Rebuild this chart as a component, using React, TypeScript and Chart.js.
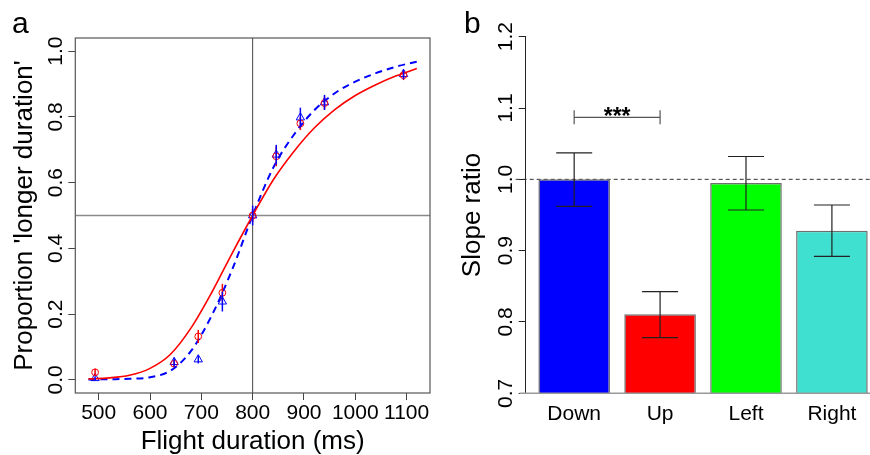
import React, { useEffect, useRef } from 'react';
import { Chart, registerables } from 'chart.js';

Chart.register(...registerables);

const FONT = '"Liberation Sans", Arial, Helvetica, sans-serif';

// ---------- Panel a: psychometric data ----------
const durations = [493, 647, 694, 741, 800, 846, 893, 940, 1094];
const propRed = [0.023, 0.049, 0.132, 0.265, 0.5, 0.68, 0.78, 0.842, 0.927];
const errRed = [0.011, 0.01, 0.02, 0.027, 0.02, 0.03, 0.02, 0.02, 0.015];
const propBlue = [0.005, 0.054, 0.062, 0.238, 0.5, 0.685, 0.798, 0.844, 0.93];
const errBlue = [0.006, 0.013, 0.012, 0.03, 0.03, 0.03, 0.03, 0.023, 0.015];

const fitX = [480, 520, 560, 600, 640, 680, 720, 760, 800, 840, 880, 920, 960, 1000, 1040, 1080, 1120];
const fitRed = [0.003, 0.006, 0.014, 0.035, 0.078, 0.158, 0.265, 0.385, 0.5, 0.608, 0.694, 0.766, 0.822, 0.865, 0.898, 0.925, 0.947];
const fitBlue = [0.001, 0.002, 0.003, 0.008, 0.028, 0.088, 0.195, 0.335, 0.5, 0.645, 0.745, 0.82, 0.872, 0.907, 0.933, 0.953, 0.968];

const xTicksA = [500, 600, 700, 800, 900, 1000, 1100];
const yTicksA = [0, 0.2, 0.4, 0.6, 0.8, 1.0];
const pseMs = 800;
const chanceP = 0.5;

// ---------- Panel b: slope ratios ----------
const directions = ['Down', 'Up', 'Left', 'Right'];
const slopeRatio = [1.0, 0.811, 0.995, 0.928];
const slopeHi = [1.037, 0.8425, 1.032, 0.964];
const slopeLo = [0.962, 0.778, 0.957, 0.892];
const barColors = ['#0000ff', '#ff0000', '#00ff00', '#40e0d0'];
const barSlots = [0.7, 1.9, 3.1, 4.3];
const yTicksB = [0.7, 0.8, 0.9, 1.0, 1.1, 1.2];
const refRatio = 1.0;
const sigY = 1.087;
const sigPair = [0, 1];
const sigLabel = '***';

const panelA = {
  id: 'panelA',
  beforeDatasetsDraw(chart: any) {
    const { ctx, chartArea: ca, scales } = chart;
    const x = scales.x, y = scales.y;
    ctx.save();
    ctx.strokeStyle = '#8a8a8a';
    ctx.lineWidth = 1.4;
    const py = y.getPixelForValue(chanceP);
    ctx.beginPath(); ctx.moveTo(ca.left, py); ctx.lineTo(ca.right, py); ctx.stroke();
    ctx.strokeStyle = '#444';
    ctx.lineWidth = 1;
    const px = x.getPixelForValue(pseMs);
    ctx.beginPath(); ctx.moveTo(px, ca.top); ctx.lineTo(px, ca.bottom); ctx.stroke();
    ctx.restore();
  },
  afterDatasetsDraw(chart: any) {
    const { ctx, scales } = chart;
    const x = scales.x, y = scales.y;
    ctx.save();
    ctx.lineWidth = 1.5;
    const bars = (vals: number[], errs: number[], col: string) => {
      ctx.strokeStyle = col;
      vals.forEach((v, i) => {
        const px = x.getPixelForValue(durations[i]);
        ctx.beginPath();
        ctx.moveTo(px, y.getPixelForValue(v - errs[i]));
        ctx.lineTo(px, y.getPixelForValue(v + errs[i]));
        ctx.stroke();
      });
    };
    bars(propRed, errRed, '#ff0000');
    bars(propBlue, errBlue, '#0000ff');
    ctx.restore();
  },
  afterDraw(chart: any) {
    const { ctx, chartArea: ca } = chart;
    ctx.save();
    ctx.strokeStyle = '#555';
    ctx.lineWidth = 1.2;
    ctx.strokeRect(ca.left, ca.top, ca.right - ca.left, ca.bottom - ca.top);
    ctx.fillStyle = '#000';
    ctx.font = `30px ${FONT}`;
    ctx.textAlign = 'left';
    ctx.textBaseline = 'alphabetic';
    ctx.fillText('a', 12, 33);
    ctx.restore();
  },
};

const panelB = {
  id: 'panelB',
  beforeDatasetsDraw(chart: any) {
    const { ctx, chartArea: ca, scales } = chart;
    const y = scales.y;
    ctx.save();
    ctx.strokeStyle = '#333';
    ctx.lineWidth = 1;
    ctx.setLineDash([4, 3]);
    const py = y.getPixelForValue(refRatio);
    ctx.beginPath(); ctx.moveTo(ca.left - 10, py); ctx.lineTo(ca.right, py); ctx.stroke();
    ctx.restore();
  },
  afterDatasetsDraw(chart: any) {
    const { ctx, chartArea: ca, scales } = chart;
    const y = scales.y;
    const meta = chart.getDatasetMeta(0);
    ctx.save();
    ctx.strokeStyle = '#999';
    ctx.lineWidth = 1.5;
    ctx.beginPath(); ctx.moveTo(ca.left - 6, ca.bottom); ctx.lineTo(ca.right, ca.bottom); ctx.stroke();
    ctx.strokeStyle = '#222';
    ctx.lineWidth = 1.2;
    meta.data.forEach((el: any, i: number) => {
      const px = el.x;
      const hi = y.getPixelForValue(slopeHi[i]);
      const lo = y.getPixelForValue(slopeLo[i]);
      ctx.beginPath();
      ctx.moveTo(px, hi); ctx.lineTo(px, lo);
      ctx.moveTo(px - 18, hi); ctx.lineTo(px + 18, hi);
      ctx.moveTo(px - 18, lo); ctx.lineTo(px + 18, lo);
      ctx.stroke();
    });
    const x0 = meta.data[sigPair[0]].x;
    const x1 = meta.data[sigPair[1]].x;
    const sy = y.getPixelForValue(sigY);
    ctx.strokeStyle = '#555';
    ctx.lineWidth = 1.2;
    ctx.beginPath();
    ctx.moveTo(x0, sy - 7); ctx.lineTo(x0, sy + 7);
    ctx.moveTo(x0, sy); ctx.lineTo(x1, sy);
    ctx.moveTo(x1, sy - 7); ctx.lineTo(x1, sy + 7);
    ctx.stroke();
    ctx.fillStyle = '#000';
    ctx.font = `bold 23px ${FONT}`;
    ctx.textAlign = 'center';
    ctx.textBaseline = 'alphabetic';
    ctx.fillText(sigLabel, (x0 + x1) / 2, sy + 7);
    ctx.restore();
  },
  afterDraw(chart: any) {
    const { ctx } = chart;
    ctx.save();
    ctx.fillStyle = '#000';
    ctx.font = `30px ${FONT}`;
    ctx.textAlign = 'left';
    ctx.textBaseline = 'alphabetic';
    ctx.fillText('b', 24, 33);
    ctx.restore();
  },
};

export default function App() {
  const refA = useRef<HTMLCanvasElement>(null);
  const refB = useRef<HTMLCanvasElement>(null);

  useEffect(() => {
    Chart.defaults.font.family = FONT;
    Chart.defaults.color = '#000';

    const chartA = new Chart(refA.current as HTMLCanvasElement, {
      type: 'scatter',
      data: {
        datasets: [
          {
            type: 'line',
            label: 'fit red',
            data: fitX.map((v, i) => ({ x: v, y: fitRed[i] })),
            borderColor: '#ff0000',
            borderWidth: 1.6,
            pointRadius: 0,
            cubicInterpolationMode: 'monotone',
            fill: false,
          } as any,
          {
            type: 'line',
            label: 'fit blue',
            data: fitX.map((v, i) => ({ x: v, y: fitBlue[i] })),
            borderColor: '#0000ff',
            borderWidth: 2,
            borderDash: [7, 5],
            pointRadius: 0,
            cubicInterpolationMode: 'monotone',
            fill: false,
          } as any,
          {
            label: 'red data',
            data: durations.map((v, i) => ({ x: v, y: propRed[i] })),
            pointStyle: 'circle',
            pointRadius: 3.4,
            borderColor: '#ff0000',
            backgroundColor: 'rgba(0,0,0,0)',
            borderWidth: 1,
          },
          {
            label: 'blue data',
            data: durations.map((v, i) => ({ x: v, y: propBlue[i] })),
            pointStyle: 'triangle',
            pointRadius: 4.8,
            borderColor: '#0000ff',
            backgroundColor: 'rgba(0,0,0,0)',
            borderWidth: 1,
          },
        ],
      },
      options: {
        animation: false,
        responsive: false,
        layout: { padding: { top: 38, right: 10, left: 0, bottom: 0 } },
        plugins: { legend: { display: false }, tooltip: { enabled: false } },
        scales: {
          x: {
            type: 'linear',
            min: 454.4,
            max: 1145.6,
            afterBuildTicks: (s: any) => { s.ticks = xTicksA.map((v) => ({ value: v })); },
            afterFit: (s: any) => { s.height = 62; },
            grid: { drawOnChartArea: false, drawTicks: true, tickLength: 7, color: '#444', lineWidth: 1 },
            border: { display: false },
            ticks: { font: { size: 21 }, color: '#000', padding: 1, maxRotation: 0, autoSkip: false, callback: (v: any) => String(v) },
            title: { display: true, text: 'Flight duration (ms)', font: { size: 26 }, color: '#000', padding: { top: 0, bottom: -2 } },
          },
          y: {
            type: 'linear',
            min: -0.04,
            max: 1.04,
            afterBuildTicks: (s: any) => { s.ticks = yTicksA.map((v) => ({ value: v })); },
            afterFit: (s: any) => { s.width = 75.3; },
            grid: { drawOnChartArea: false, drawTicks: true, tickLength: 7, color: '#444', lineWidth: 1 },
            border: { display: false },
            ticks: {
              font: { size: 21 },
              color: '#000',
              padding: -2,
              minRotation: 90,
              maxRotation: 90,
              crossAlign: 'center',
              autoSkip: false,
              callback: (v: any) => Number(v).toFixed(1),
            },
            title: { display: true, text: "Proportion 'longer duration'", font: { size: 26 }, color: '#000', padding: { top: 9, bottom: 0 } },
          },
        },
      } as any,
      plugins: [panelA],
    });

    const chartB = new Chart(refB.current as HTMLCanvasElement, {
      type: 'bar',
      data: {
        datasets: [
          {
            label: 'Slope ratio',
            data: barSlots.map((s, i) => ({ x: s, y: slopeRatio[i] })),
            backgroundColor: barColors,
            borderColor: '#6e6e6e',
            borderWidth: 1.5,
            barPercentage: 1,
            categoryPercentage: 1 / 1.2,
          } as any,
        ],
      },
      options: {
        animation: false,
        responsive: false,
        layout: { padding: { top: 36.7, right: 0, left: 0, bottom: 0 } },
        plugins: { legend: { display: false }, tooltip: { enabled: false } },
        scales: {
          x: {
            type: 'linear',
            offset: false,
            min: 0.023,
            max: 4.832,
            afterBuildTicks: (s: any) => { s.ticks = barSlots.map((v) => ({ value: v })); },
            afterFit: (s: any) => { s.height = 61.7; },
            grid: { display: false, drawTicks: false },
            border: { display: false },
            ticks: {
              font: { size: 21 },
              color: '#000',
              padding: 8,
              maxRotation: 0,
              autoSkip: false,
              callback: (_v: any, i: number) => directions[i],
            },
          },
          y: {
            type: 'linear',
            min: 0.7,
            max: 1.2,
            afterBuildTicks: (s: any) => { s.ticks = yTicksB.map((v) => ({ value: v })); },
            afterFit: (s: any) => { s.width = 85.7; },
            grid: { drawOnChartArea: false, drawTicks: true, tickLength: 7, color: '#222', lineWidth: 1 },
            border: { display: true, color: '#222', width: 1 },
            ticks: {
              font: { size: 21 },
              color: '#000',
              padding: -2.5,
              minRotation: 90,
              maxRotation: 90,
              crossAlign: 'center',
              autoSkip: false,
              callback: (v: any) => Number(v).toFixed(1),
            },
            title: { display: true, text: 'Slope ratio', font: { size: 26 }, color: '#000', padding: { top: 17, bottom: 0 } },
          },
        },
      } as any,
      plugins: [panelB],
    });

    return () => {
      chartA.destroy();
      chartB.destroy();
    };
  }, []);

  return (
    <div style={{ position: 'absolute', left: 0, top: 0, width: 870, height: 455, background: '#fff', overflow: 'hidden' }}>
      <canvas ref={refA} width={440} height={455} style={{ position: 'absolute', left: 0, top: 0, width: 440, height: 455 }} />
      <canvas ref={refB} width={430} height={455} style={{ position: 'absolute', left: 440, top: 0, width: 430, height: 455 }} />
    </div>
  );
}
